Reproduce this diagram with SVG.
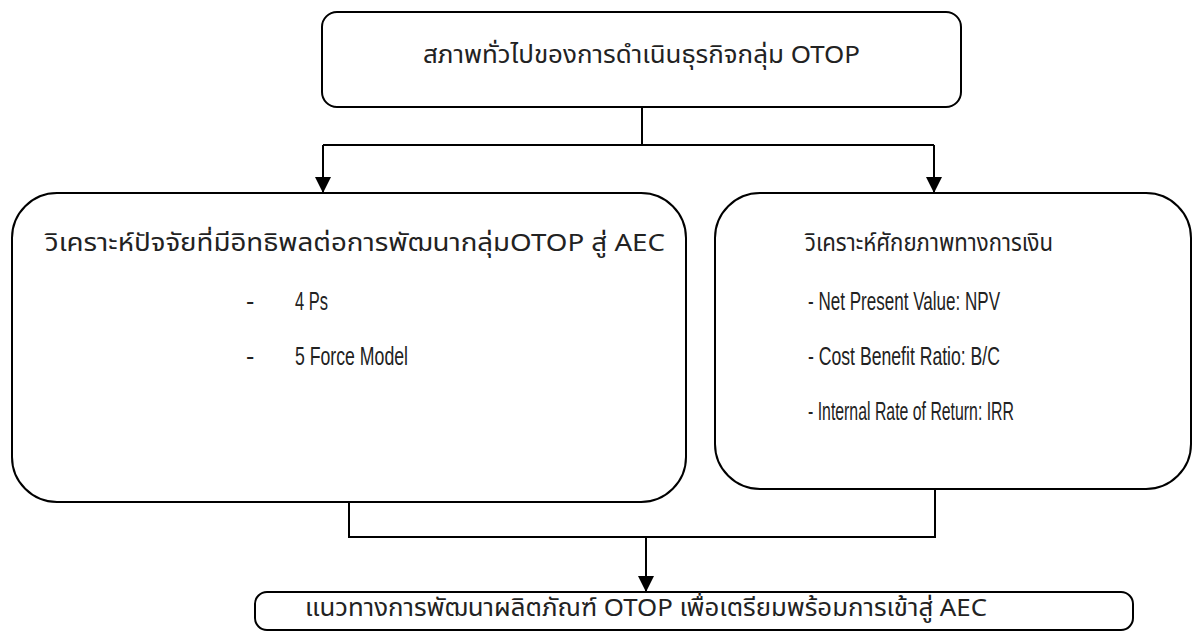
<svg xmlns="http://www.w3.org/2000/svg" width="1195" height="632" viewBox="0 0 1195 632">
<style>
.box{fill:#fff;stroke:#000;stroke-width:2}
.t{font-family:"Noto Sans Thai","Liberation Sans","DejaVu Sans",sans-serif;font-size:24px;fill:#222}
.e{font-family:"Liberation Sans",sans-serif;font-size:25px;fill:#222}
.c{fill:none;stroke:#000;stroke-width:2}
</style>
<defs>
<marker id="a" markerUnits="userSpaceOnUse" markerWidth="16" markerHeight="16" viewBox="0 0 16 16" refX="16" refY="8" orient="auto"><path d="M0,0 L16,8 L0,16 z" fill="#000"/></marker>
</defs>
<g id="connectors">
<path class="c" d="M642,107 V145 M323,145 H934"/>
<path class="c" d="M323,145 V193" marker-end="url(#a)"/>
<path class="c" d="M934,145 V193" marker-end="url(#a)"/>
<path class="c" d="M349,502 V537 H935 V489"/>
<path class="c" d="M646,537 V592" marker-end="url(#a)"/>
</g>
<g id="top">
<rect class="box" x="322" y="12" width="639" height="95" rx="15"/>
<text class="t" x="423" y="63" textLength="437" lengthAdjust="spacingAndGlyphs">สภาพทั่วไปของการดำเนินธุรกิจกลุ่ม OTOP</text>
</g>
<g id="left">
<rect class="box" x="12" y="193" width="674" height="309" rx="45"/>
<text class="t" x="45" y="251" textLength="620" lengthAdjust="spacingAndGlyphs">วิเคราะห์ปัจจัยที่มีอิทธิพลต่อการพัฒนากลุ่มOTOP สู่ AEC</text>
<text class="e" x="246" y="310">-</text>
<text class="e" x="295" y="310" textLength="33" lengthAdjust="spacingAndGlyphs">4 Ps</text>
<text class="e" x="246" y="365">-</text>
<text class="e" x="295" y="365" textLength="113" lengthAdjust="spacingAndGlyphs">5 Force Model</text>
</g>
<g id="right">
<rect class="box" x="715" y="193" width="476" height="296" rx="45"/>
<text class="t" x="805" y="251" textLength="248" lengthAdjust="spacingAndGlyphs">วิเคราะห์ศักยภาพทางการเงิน</text>
<text class="e" x="808" y="310" textLength="192" lengthAdjust="spacingAndGlyphs">- Net Present Value: NPV</text>
<text class="e" x="808" y="365" textLength="192" lengthAdjust="spacingAndGlyphs">- Cost Benefit Ratio: B/C</text>
<text class="e" x="808" y="420" textLength="206" lengthAdjust="spacingAndGlyphs">- Internal Rate of Return: IRR</text>
</g>
<g id="bottom">
<rect class="box" x="255" y="592" width="878" height="38" rx="12"/>
<text class="t" x="305" y="616" textLength="682" lengthAdjust="spacingAndGlyphs">แนวทางการพัฒนาผลิตภัณฑ์ OTOP เพื่อเตรียมพร้อมการเข้าสู่ AEC</text>
</g>
</svg>
